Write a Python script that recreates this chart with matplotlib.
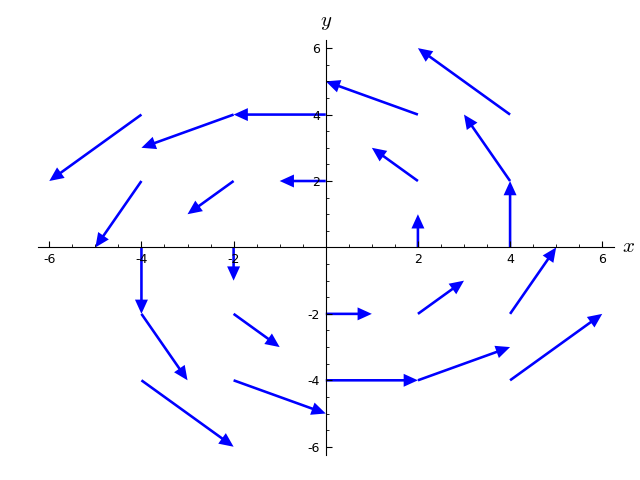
import matplotlib
matplotlib.use("Agg")
import matplotlib.pyplot as plt
from matplotlib.ticker import MultipleLocator, FixedLocator

# arrow tails and components
xs = [-4, -2, 0, 2, 4,
      -4, -2, 0, 2, 4,
      -4, -2, 2, 4,
      -4, -2, 0, 2, 4,
      -4, -2, 0, 2, 4]
ys = [4, 4, 4, 4, 4,
      2, 2, 2, 2, 2,
      0, 0, 0, 0,
      -2, -2, -2, -2, -2,
      -4, -4, -4, -4, -4]
us = [-2, -2, -2, -2, -2,
      -1, -1, -1, -1, -1,
      0, 0, 0, 0,
      1, 1, 1, 1, 1,
      2, 2, 2, 2, 2]
vs = [-2, -1, 0, 1, 2,
      -2, -1, 0, 1, 2,
      -2, -1, 1, 2,
      -2, -1, 0, 1, 2,
      -2, -1, 0, 1, 2]

xticks = [-6, -4, -2, 2, 4, 6]
yticks = [-6, -4, -2, 2, 4, 6]

plt.rcParams['axes.unicode_minus'] = False
plt.rcParams['mathtext.fontset'] = 'cm'
fig = plt.figure(figsize=(6.4, 4.8), dpi=100)
ax = fig.add_axes([0.059, 0.052, 0.9, 0.865])

ax.quiver(xs, ys, us, vs, angles='xy', scale_units='xy', scale=1,
          color=(0, 0, 1), width=0.0045, headwidth=5, headlength=5.5,
          headaxislength=5.5)

ax.set_xlim(-6.25, 6.25)
ax.set_ylim(-6.25, 6.25)

for s in ['top', 'right']:
    ax.spines[s].set_visible(False)
ax.spines['left'].set_position(('data', 0))
ax.spines['bottom'].set_position(('data', 0))
ax.spines['left'].set_linewidth(0.8)
ax.spines['bottom'].set_linewidth(0.8)

ax.xaxis.set_major_locator(FixedLocator(xticks))
ax.yaxis.set_major_locator(FixedLocator(yticks))
ax.xaxis.set_minor_locator(MultipleLocator(0.5))
ax.yaxis.set_minor_locator(MultipleLocator(0.5))
ax.tick_params(which='major', direction='in', length=4, width=0.8, labelsize=9, pad=4)
ax.tick_params(which='minor', direction='in', length=2, width=0.6)

ax.text(6.42, 0.05, '$x$', fontsize=15, va='center', ha='left')
ax.text(0, 6.5, '$y$', fontsize=15, va='bottom', ha='center')

fig.savefig("out.png")
